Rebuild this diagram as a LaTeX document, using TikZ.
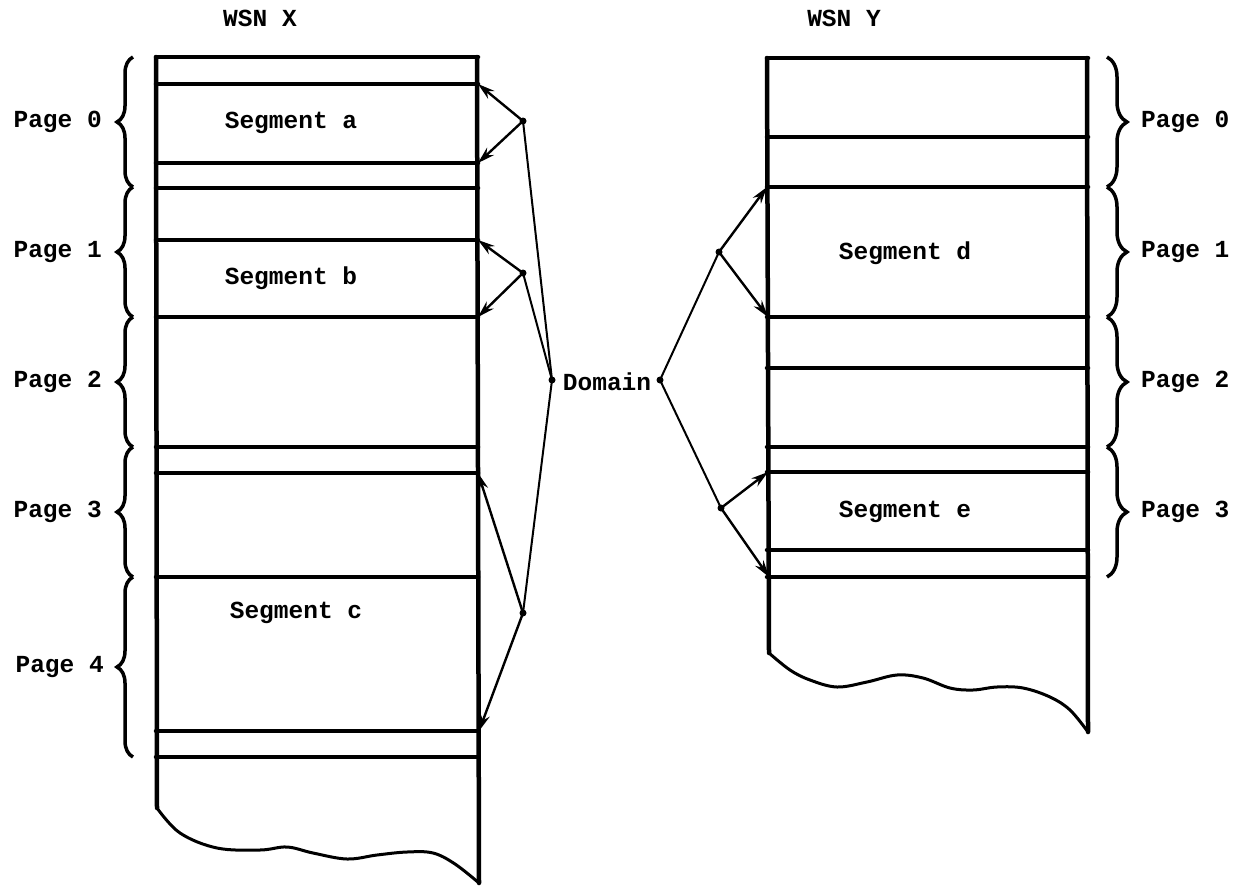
\documentclass[tikz,border=0pt]{standalone}
\usepackage{fontspec}
\setmonofont{Liberation Mono}
\usetikzlibrary{decorations.pathreplacing,arrows.meta}
\begin{document}
\begin{tikzpicture}[x=1pt,y=-1pt,
  wall/.style={line width=4.5pt, line cap=round},
  wave/.style={line width=3pt, line join=round},
  lbl/.style={font=\fontsize{24.5}{28}\selectfont\ttfamily\bfseries, inner sep=0pt},
  ptr/.style={line width=2.4pt, -{Stealth[length=17pt,width=10pt]}},
  link/.style={line width=2pt},
  dot/.style={circle, fill=black, inner sep=0pt, minimum size=7pt},
  bracel/.style={line width=3.5pt, decorate, decoration={brace, amplitude=16pt}},
  bracer/.style={line width=3.5pt, decorate, decoration={brace, amplitude=20pt}}]
\useasboundingbox (0,0) rectangle (1239,886);

% ---------- WSN X ----------
\node[lbl] (wsnx) at (260,18) {WSN X};
\draw[wall] (156,57) -- (157,808);
\draw[wall] (477,57) -- (479,883);
\foreach \yy in {57,84,163,188,240,317,447,473,577,731,757}
  \draw[wall] (156,\yy) -- (478,\yy);
\draw[wave] plot[smooth, tension=0.6] coordinates {(157,808) (180,833) (217,848) (260,850) (287,847) (313,853) (347,859) (377,855) (407,852) (433,853) (455,864) (479,883)};

\node[lbl] (sa) at (291,123) {Segment a};
\node[lbl] (sb) at (291,278) {Segment b};
\node[lbl] (sc) at (296,613) {Segment c};

% left braces
\draw[bracel] (133,187) -- (133,57);
\draw[bracel] (133,317) -- (133,187);
\draw[bracel] (133,447) -- (133,317);
\draw[bracel] (133,577) -- (133,447);
\draw[bracel] (133,757) -- (133,577);
\node[lbl, anchor=east] (xp0) at (102,122) {Page 0};
\node[lbl, anchor=east] (xp1) at (102,252) {Page 1};
\node[lbl, anchor=east] (xp2) at (102,382) {Page 2};
\node[lbl, anchor=east] (xp3) at (102,512) {Page 3};
\node[lbl, anchor=east] (xp4) at (104,667) {Page 4};

% arrow targets on X
\coordinate (xa1) at (478,84);
\coordinate (xa2) at (478,163);
\coordinate (xb1) at (478,240);
\coordinate (xb2) at (478,317);
\coordinate (xc1) at (478,473);
\coordinate (xc2) at (479,731);

% ---------- WSN Y ----------
\node[lbl] (wsny) at (844,18) {WSN Y};
\draw[wall] (767,58) -- (769,653);
\draw[wall] (1087,58) -- (1088,732);
\foreach \yy in {58,137,187,317,368,447,472,550,577}
  \draw[wall] (767,\yy) -- (1088,\yy);
\draw[wave] plot[smooth, tension=0.6] coordinates {(769,653) (790,670) (810,680) (837,687) (867,682) (897,675) (923,678) (950,688) (973,690) (997,687) (1023,688) (1050,697) (1070,710) (1088,732)};

\node[lbl] (sd) at (905,253) {Segment d};
\node[lbl] (se) at (905,512) {Segment e};

% right braces
\draw[bracer] (1107,57) -- (1107,187);
\draw[bracer] (1107,187) -- (1107,317);
\draw[bracer] (1107,317) -- (1107,447);
\draw[bracer] (1107,447) -- (1107,577);
\node[lbl, anchor=west] (yp0) at (1141,122) {Page 0};
\node[lbl, anchor=west] (yp1) at (1141,252) {Page 1};
\node[lbl, anchor=west] (yp2) at (1141,382) {Page 2};
\node[lbl, anchor=west] (yp3) at (1141,512) {Page 3};

% arrow targets on Y
\coordinate (yd1) at (767,187);
\coordinate (yd2) at (768,317);
\coordinate (ye1) at (768,472);
\coordinate (ye2) at (769,577);

% ---------- Domain ----------
\node[lbl] (dom) at (607,382) {Domain};
\node[dot] (dl) at (552,380) {};
\node[dot] (dr) at (660,380) {};

\node[dot] (ja) at (523,121) {};
\node[dot] (jb) at (523,273) {};
\node[dot] (jc) at (523,613) {};
\node[dot] (jd) at (719,252) {};
\node[dot] (je) at (721,508) {};

\draw[link] (dl.center) -- (ja.center);
\draw[link] (dl.center) -- (jb.center);
\draw[link] (dl.center) -- (jc.center);
\draw[link] (dr.center) -- (jd.center);
\draw[link] (dr.center) -- (je.center);

\draw[ptr] (ja.center) -- (xa1);
\draw[ptr] (ja.center) -- (xa2);
\draw[ptr] (jb.center) -- (xb1);
\draw[ptr] (jb.center) -- (xb2);
\draw[ptr] (jc.center) -- (xc1);
\draw[ptr] (jc.center) -- (xc2);
\draw[ptr] (jd.center) -- (yd1);
\draw[ptr] (jd.center) -- (yd2);
\draw[ptr] (je.center) -- (ye1);
\draw[ptr] (je.center) -- (ye2);
\end{tikzpicture}
\end{document}
